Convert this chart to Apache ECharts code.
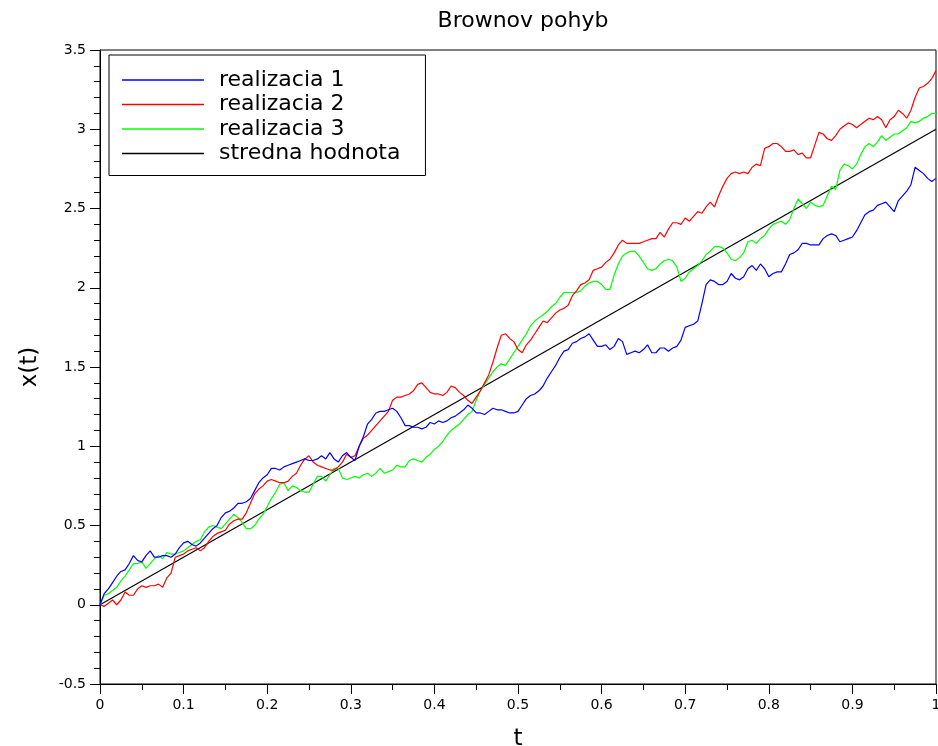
<!DOCTYPE html>
<html>
<head>
  <meta charset="utf-8">
  <title>Brownov pohyb</title>
  <script src="https://cdn.jsdelivr.net/npm/echarts@6/dist/echarts.min.js"></script>
</head>
<body style="margin:0;background:#fff">
  <div id="main" style="width:938px;height:746px"></div>
  <script type="text/javascript">
    // sampling step of the paths: t = 0, 0.005, ... 1
    var stepCount = 200;

    // realizacia 1 (modra)
    var path1 = [
      0.00, 0.07, 0.10, 0.14, 0.18, 0.21, 0.22, 0.26, 0.31, 0.28,
      0.27, 0.31, 0.34, 0.30, 0.30, 0.31, 0.31, 0.30, 0.32, 0.36,
      0.39, 0.40, 0.38, 0.37, 0.39, 0.42, 0.45, 0.48, 0.50, 0.55,
      0.58, 0.59, 0.61, 0.64, 0.64, 0.65, 0.67, 0.72, 0.77, 0.80,
      0.82, 0.86, 0.86, 0.85, 0.87, 0.88, 0.89, 0.90, 0.91, 0.92,
      0.91, 0.91, 0.92, 0.94, 0.92, 0.96, 0.92, 0.90, 0.94, 0.96,
      0.93, 0.91, 1.00, 1.06, 1.14, 1.17, 1.21, 1.22, 1.22, 1.23,
      1.24, 1.22, 1.18, 1.13, 1.13, 1.12, 1.12, 1.11, 1.12, 1.15,
      1.14, 1.16, 1.15, 1.16, 1.18, 1.19, 1.21, 1.23, 1.26, 1.24,
      1.21, 1.21, 1.20, 1.22, 1.24, 1.23, 1.23, 1.22, 1.21, 1.21,
      1.22, 1.26, 1.30, 1.32, 1.33, 1.35, 1.38, 1.43, 1.47, 1.51,
      1.56, 1.60, 1.61, 1.65, 1.66, 1.68, 1.69, 1.71, 1.67, 1.63,
      1.63, 1.64, 1.61, 1.63, 1.68, 1.66, 1.58, 1.59, 1.60, 1.59,
      1.61, 1.64, 1.59, 1.59, 1.62, 1.62, 1.60, 1.62, 1.63, 1.67,
      1.75, 1.76, 1.77, 1.79, 1.90, 2.02, 2.05, 2.04, 2.02, 2.02,
      2.04, 2.09, 2.06, 2.05, 2.07, 2.12, 2.14, 2.11, 2.15, 2.12,
      2.07, 2.09, 2.10, 2.10, 2.15, 2.21, 2.22, 2.24, 2.28, 2.28,
      2.27, 2.27, 2.27, 2.31, 2.33, 2.34, 2.33, 2.29, 2.30, 2.31,
      2.32, 2.36, 2.41, 2.46, 2.48, 2.49, 2.52, 2.53, 2.54, 2.51,
      2.48, 2.55, 2.58, 2.61, 2.65, 2.76, 2.74, 2.72, 2.69, 2.67,
      2.69
    ];

    // realizacia 2 (cervena)
    var path2 = [
      0.00, -0.01, 0.01, 0.03, 0.00, 0.03, 0.08, 0.06, 0.06, 0.10,
      0.12, 0.11, 0.12, 0.12, 0.13, 0.11, 0.17, 0.20, 0.30, 0.31,
      0.32, 0.34, 0.35, 0.36, 0.34, 0.36, 0.40, 0.43, 0.45, 0.46,
      0.47, 0.51, 0.53, 0.54, 0.54, 0.58, 0.64, 0.70, 0.73, 0.75,
      0.78, 0.79, 0.78, 0.77, 0.77, 0.78, 0.81, 0.83, 0.88, 0.92,
      0.94, 0.90, 0.88, 0.87, 0.86, 0.85, 0.85, 0.87, 0.90, 0.95,
      0.93, 0.94, 1.00, 1.05, 1.07, 1.10, 1.13, 1.16, 1.19, 1.22,
      1.29, 1.31, 1.31, 1.32, 1.33, 1.35, 1.39, 1.40, 1.37, 1.34,
      1.33, 1.33, 1.32, 1.34, 1.38, 1.37, 1.34, 1.32, 1.29, 1.27,
      1.31, 1.35, 1.40, 1.45, 1.53, 1.62, 1.70, 1.71, 1.68, 1.66,
      1.61, 1.59, 1.64, 1.67, 1.71, 1.75, 1.79, 1.78, 1.81, 1.84,
      1.86, 1.87, 1.89, 1.95, 1.98, 2.02, 2.03, 2.05, 2.11, 2.12,
      2.13, 2.16, 2.18, 2.22, 2.27, 2.30, 2.28, 2.28, 2.28, 2.28,
      2.29, 2.30, 2.31, 2.31, 2.35, 2.32, 2.37, 2.41, 2.41, 2.40,
      2.44, 2.42, 2.45, 2.48, 2.47, 2.51, 2.54, 2.51, 2.58, 2.64,
      2.69, 2.72, 2.73, 2.72, 2.73, 2.72, 2.76, 2.78, 2.77, 2.88,
      2.89, 2.91, 2.91, 2.89, 2.86, 2.86, 2.87, 2.84, 2.85, 2.82,
      2.82, 2.90, 2.98, 2.97, 2.94, 2.93, 2.96, 3.00, 3.02, 3.04,
      3.03, 3.01, 3.03, 3.05, 3.07, 3.06, 3.08, 3.06, 3.01, 3.06,
      3.08, 3.12, 3.10, 3.07, 3.12, 3.20, 3.26, 3.27, 3.29, 3.32,
      3.37
    ];

    // realizacia 3 (zelena)
    var path3 = [
      0.00, 0.06, 0.07, 0.09, 0.11, 0.15, 0.18, 0.22, 0.26, 0.26,
      0.27, 0.23, 0.26, 0.29, 0.31, 0.29, 0.33, 0.32, 0.32, 0.33,
      0.34, 0.36, 0.38, 0.40, 0.41, 0.46, 0.49, 0.50, 0.49, 0.48,
      0.51, 0.54, 0.57, 0.55, 0.52, 0.48, 0.48, 0.50, 0.54, 0.57,
      0.62, 0.67, 0.71, 0.76, 0.77, 0.72, 0.75, 0.74, 0.72, 0.71,
      0.71, 0.76, 0.81, 0.81, 0.78, 0.82, 0.86, 0.86, 0.80, 0.79,
      0.80, 0.81, 0.80, 0.82, 0.83, 0.81, 0.83, 0.86, 0.83, 0.84,
      0.85, 0.88, 0.87, 0.87, 0.91, 0.92, 0.91, 0.90, 0.93, 0.95,
      0.98, 1.00, 1.03, 1.07, 1.10, 1.12, 1.14, 1.17, 1.20, 1.22,
      1.29, 1.35, 1.39, 1.43, 1.47, 1.50, 1.52, 1.51, 1.55, 1.59,
      1.63, 1.67, 1.71, 1.76, 1.79, 1.81, 1.83, 1.85, 1.88, 1.90,
      1.94, 1.97, 1.97, 1.97, 1.97, 1.98, 2.01, 2.03, 2.04, 2.04,
      2.02, 1.99, 1.99, 2.08, 2.15, 2.20, 2.22, 2.23, 2.23, 2.20,
      2.16, 2.12, 2.11, 2.12, 2.15, 2.17, 2.18, 2.17, 2.13, 2.04,
      2.06, 2.10, 2.12, 2.14, 2.17, 2.21, 2.23, 2.26, 2.26, 2.25,
      2.22, 2.18, 2.17, 2.19, 2.22, 2.29, 2.30, 2.28, 2.31, 2.33,
      2.37, 2.40, 2.41, 2.42, 2.40, 2.43, 2.50, 2.56, 2.53, 2.50,
      2.54, 2.52, 2.51, 2.52, 2.58, 2.64, 2.62, 2.74, 2.78, 2.77,
      2.75, 2.78, 2.84, 2.89, 2.91, 2.89, 2.92, 2.96, 2.93, 2.95,
      2.97, 2.97, 2.99, 3.01, 3.05, 3.04, 3.05, 3.07, 3.08, 3.10,
      3.10
    ];

    // stredna hodnota: priamka z (0,0) do (1,3)
    var meanT = [0, 1];
    var meanX = [0, 3];

    var names = ['realizacia 1', 'realizacia 2', 'realizacia 3', 'stredna hodnota'];
    var colors = ['#0000ff', '#ff0000', '#00ff00', '#000000'];

    function toPairs(vals) {
      var res = [];
      for (var i = 0; i < vals.length; i++) {
        res.push([i / stepCount, vals[i]]);
      }
      return res;
    }
    function meanPairs() {
      var res = [];
      for (var i = 0; i < meanT.length; i++) res.push([meanT[i], meanX[i]]);
      return res;
    }

    var font = 'DejaVu Sans';
    var myChart = echarts.init(document.getElementById('main'));

    function lineSeries(idx, data) {
      return {
        name: names[idx],
        type: 'line',
        data: data,
        symbol: 'none',
        showSymbol: false,
        lineStyle: { color: colors[idx], width: 1.2 },
        itemStyle: { color: colors[idx] },
        z: 10 - idx
      };
    }

    var option = {
      animation: false,
      backgroundColor: '#fff',
      title: {
        text: 'Brownov pohyb',
        left: 518,
        textAlign: 'center',
        top: 5,
        textStyle: { fontFamily: font, fontSize: 22, fontWeight: 'normal', color: '#000' }
      },
      legend: {
        orient: 'vertical',
        left: 109,
        top: 55,
        padding: [14, 25, 11, 13],
        itemGap: 2.5,
        itemWidth: 82,
        itemHeight: 1.5,
        icon: 'rect',
        backgroundColor: '#fff',
        borderColor: '#000',
        borderWidth: 1,
        borderRadius: 0,
        data: names,
        textStyle: { fontFamily: font, fontSize: 22, lineHeight: 22, color: '#000', padding: [0, 0, 0, 10] }
      },
      grid: {
        left: 100, right: 2, top: 50, bottom: 62,
        outerBoundsMode: 'none',
        containLabel: false,
        show: true, borderColor: '#000', borderWidth: 1, backgroundColor: 'transparent'
      },
      xAxis: {
        type: 'value',
        min: 0, max: 1, interval: 0.1,
        name: 't',
        nameLocation: 'middle',
        nameGap: 44,
        nameTextStyle: { fontFamily: font, fontSize: 23, color: '#000' },
        axisLine: { onZero: false, lineStyle: { color: '#000', width: 1 } },
        axisTick: { show: true, length: 10, lineStyle: { color: '#000' } },
        minorTick: { show: true, splitNumber: 2, length: 6, lineStyle: { color: '#000' } },
        axisLabel: { fontFamily: font, fontSize: 14, color: '#000', margin: 14 },
        splitLine: { show: false }
      },
      yAxis: {
        type: 'value',
        min: -0.5, max: 3.5, interval: 0.5,
        name: 'x(t)',
        nameLocation: 'middle',
        nameRotate: 90,
        nameGap: 58,
        nameTextStyle: { fontFamily: font, fontSize: 23, color: '#000' },
        axisLine: { onZero: false, lineStyle: { color: '#000', width: 1 } },
        axisTick: { show: true, length: 10, lineStyle: { color: '#000' } },
        minorTick: { show: true, splitNumber: 5, length: 6, lineStyle: { color: '#000' } },
        axisLabel: { fontFamily: font, fontSize: 14, color: '#000', margin: 14 },
        splitLine: { show: false }
      },
      series: [
        lineSeries(0, toPairs(path1)),
        lineSeries(1, toPairs(path2)),
        lineSeries(2, toPairs(path3)),
        lineSeries(3, meanPairs())
      ]
    };
    myChart.setOption(option);
  </script>
</body>
</html>
